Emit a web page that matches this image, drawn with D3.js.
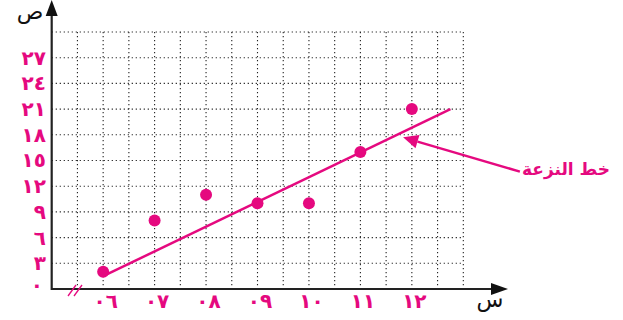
<!DOCTYPE html>
<html><head><meta charset="utf-8">
<script src="https://cdn.jsdelivr.net/npm/d3@7"></script>
<style>body{margin:0;background:#fff}svg{display:block}</style>
</head><body>
<script>
const years = [6, 7, 8, 9, 10, 11, 12];
const yearLabels = ["٠٦","٠٧","٠٨","٠٩","١٠","١١","١٢"];
const values = [2, 8, 11, 10, 10, 16, 21];
const yTickValues = [0, 3, 6, 9, 12, 15, 18, 21, 24, 27];
const yTickLabels = ["٠","٣","٦","٩","١٢","١٥","١٨","٢١","٢٤","٢٧"];
const trendX = [6, 12.75];
const trendY = [1.5, 21];
const annotationText = "خط النزعة";
const annotationTail = [14.1, 13.7];
const annotationTip = [11.83, 17.7];
const xAxisName = "س";
const yAxisName = "ص";

const W = 623, H = 320;
const magenta = "#e5097f";
const svg = d3.select("body").append("svg").attr("width", W).attr("height", H);

const x = d3.scaleLinear().domain([5, 13]).range([51.7, 463.3]);
const y = d3.scaleLinear().domain([0, 30]).range([289, 32]);

// grid
const grid = svg.append("g");
const vLines = d3.range(5.5, 13.01, 0.5);
const hLines = d3.range(3, 30.01, 3);
grid.selectAll(".v").data(vLines).enter().append("line")
  .attr("x1", d => x(d)).attr("x2", d => x(d)).attr("y1", y(30)).attr("y2", y(0))
  .attr("stroke", "#222").attr("stroke-width", 1.1).attr("stroke-dasharray", "1.2,2.8");
grid.selectAll(".h").data(hLines).enter().append("line")
  .attr("y1", d => y(d)).attr("y2", d => y(d)).attr("x1", x(5)).attr("x2", x(13))
  .attr("stroke", "#222").attr("stroke-width", 1.1).attr("stroke-dasharray", "1.2,2.8");

// axes lines
svg.append("line").attr("x1", x(5)).attr("x2", 494).attr("y1", y(0)).attr("y2", y(0))
  .attr("stroke", "#222").attr("stroke-width", 2.2);
svg.append("line").attr("x1", x(5)).attr("x2", x(5)).attr("y1", y(0) + 1).attr("y2", 14)
  .attr("stroke", "#222").attr("stroke-width", 2.2);
// arrowheads
svg.append("path").attr("d", `M${x(5)},0 L${x(5)-6},16 L${x(5)+6},16 Z`).attr("fill", "#111");
svg.append("path").attr("d", `M508,${y(0)} L491,${y(0)-6} L491,${y(0)+6} Z`).attr("fill", "#111");

// axis break marks
svg.append("g").selectAll("line").data([0, 6]).enter().append("line")
  .attr("x1", d => 68 + d).attr("y1", 296).attr("x2", d => 76 + d).attr("y2", 285)
  .attr("stroke", magenta).attr("stroke-width", 1.3);

// y tick labels
const yAxis = d3.axisLeft(y).tickValues(yTickValues).tickSize(0).tickPadding(0)
  .tickFormat((d, i) => yTickLabels[i]);
const gy = svg.append("g").attr("transform", `translate(46,0)`).call(yAxis);
gy.select(".domain").remove();
gy.selectAll("text").attr("fill", magenta).attr("font-family", "DejaVu Sans")
  .attr("font-size", 20).attr("font-weight", "bold");
gy.selectAll(".tick").filter(d => d === 0).select("text").attr("dy", "0.1em").attr("x", -3);

// x tick labels
const xAxis = d3.axisBottom(x).tickValues(years).tickSize(0).tickPadding(0)
  .tickFormat((d, i) => yearLabels[i]);
const gx = svg.append("g").attr("transform", `translate(2,${y(0) + 5})`).call(xAxis);
gx.select(".domain").remove();
gx.selectAll("text").attr("fill", magenta).attr("font-family", "DejaVu Sans")
  .attr("font-size", 20).attr("font-weight", "bold");

// axis names
svg.append("text").attr("x", 30).attr("y", 19).attr("text-anchor", "middle")
  .attr("font-family", "DejaVu Sans").attr("font-size", 22).attr("fill", "#111")
  .text(yAxisName);
svg.append("text").attr("x", 490).attr("y", 307).attr("text-anchor", "middle")
  .attr("font-family", "DejaVu Sans").attr("font-size", 22).attr("fill", "#111")
  .text(xAxisName);

// trend line
svg.append("line").attr("x1", x(trendX[0])).attr("y1", y(trendY[0]))
  .attr("x2", x(trendX[1])).attr("y2", y(trendY[1]))
  .attr("stroke", magenta).attr("stroke-width", 2.5);

// points
svg.append("g").selectAll("circle").data(years).enter().append("circle")
  .attr("cx", d => x(d)).attr("cy", (d, i) => y(values[i])).attr("r", 6)
  .attr("fill", magenta);

// annotation arrow
const tx = x(annotationTail[0]), ty = y(annotationTail[1]);
const px = x(annotationTip[0]), py = y(annotationTip[1]);
const ang = Math.atan2(py - ty, px - tx);
const hl = 15, hw = 7;
const bx = px - hl * Math.cos(ang), by = py - hl * Math.sin(ang);
svg.append("line").attr("x1", tx).attr("y1", ty).attr("x2", bx).attr("y2", by)
  .attr("stroke", magenta).attr("stroke-width", 2.5);
svg.append("path").attr("d",
  `M${px},${py} L${bx + hw * Math.sin(ang)},${by - hw * Math.cos(ang)} L${bx - hw * Math.sin(ang)},${by + hw * Math.cos(ang)} Z`)
  .attr("fill", magenta);
svg.append("text").attr("x", 566).attr("y", 175).attr("text-anchor", "middle")
  .attr("font-family", "DejaVu Sans").attr("font-size", 17).attr("font-weight", "bold")
  .attr("fill", magenta).attr("direction", "rtl").text(annotationText);
</script>
</body></html>
